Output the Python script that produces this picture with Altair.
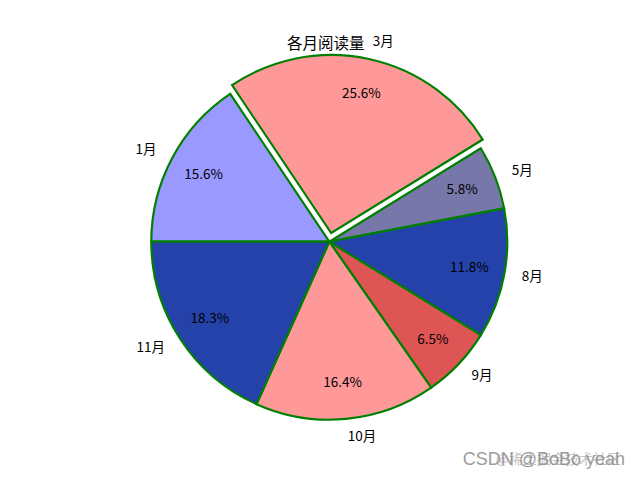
import math
import altair as alt
import pandas as pd

# ---- data ----
months = ["1月", "3月", "5月", "8月", "9月", "10月", "11月"]
values = [15.6, 25.6, 5.8, 11.8, 6.5, 16.4, 18.3]
colors = ["#9999ff", "#ff9999", "#7777aa", "#2442aa", "#dd5555", "#ff9999", "#2442aa"]
explode = [0, 0.05, 0, 0, 0, 0, 0]
title_text = "各月阅读量"
watermark_text = "CSDN @BoBo yeah"
watermark_text2 = "@稀土掘金技术社区"

# ---- layout / style ----
W, H = 624, 464
CX, CY = 321.3, 233.7
R = 178
START = 1.5 * math.pi  # first slice starts at 9 o'clock, drawn clockwise
FONT = "Noto Sans CJK SC"

df = pd.DataFrame({
    "month": months,
    "value": values,
    "color": colors,
    "explode": explode,
    "order": list(range(len(months))),
})

theta_scale = alt.Scale(domain=[0, 1], range=[START, START + 2 * math.pi])

base = (
    alt.Chart(df)
    .transform_joinaggregate(total="sum(value)")
    .transform_window(cum="sum(value)", sort=[alt.SortField("order")], frame=[None, 0])
    .transform_calculate(
        start="(datum.cum - datum.value) / datum.total",
        end="datum.cum / datum.total",
        mid="(datum.cum - datum.value / 2) / datum.total",
    )
    .transform_calculate(ang=f"{START} + 2 * PI * datum.mid")
    .transform_calculate(
        px=f"{CX} + datum.explode * {R} * sin(datum.ang)",
        py=f"{CY} - datum.explode * {R} * cos(datum.ang)",
        side="sin(datum.ang)",
        pct="format(datum.value / datum.total * 100, '.1f') + '%'",
    )
)

arcs = base.mark_arc(
    outerRadius=R, stroke="green", strokeWidth=2.2, strokeJoin="miter"
).encode(
    theta=alt.Theta("start:Q", scale=theta_scale, stack=None),
    theta2="end:Q",
    x=alt.X("px:Q", scale=None),
    y=alt.Y("py:Q", scale=None),
    color=alt.Color("color:N", scale=None),
    order=alt.Order("order:Q"),
)

pct = base.mark_text(
    font=FONT, fontSize=13.5, color="black", align="center", baseline="middle"
).encode(
    theta=alt.Theta("mid:Q", scale=theta_scale, stack=None),
    radius=alt.value(0.8 * R),
    x=alt.X("px:Q", scale=None),
    y=alt.Y("py:Q", scale=None),
    text="pct:N",
)

labels_left = base.transform_filter("datum.side < 0").mark_text(
    font=FONT, fontSize=13.5, color="black", align="right", baseline="middle"
).encode(
    theta=alt.Theta("mid:Q", scale=theta_scale, stack=None),
    radius=alt.value(1.1 * R),
    x=alt.X("px:Q", scale=None),
    y=alt.Y("py:Q", scale=None),
    text="month:N",
)

labels_right = base.transform_filter("datum.side >= 0").mark_text(
    font=FONT, fontSize=13.5, color="black", align="left", baseline="middle"
).encode(
    theta=alt.Theta("mid:Q", scale=theta_scale, stack=None),
    radius=alt.value(1.1 * R),
    x=alt.X("px:Q", scale=None),
    y=alt.Y("py:Q", scale=None),
    text="month:N",
)

title = alt.Chart(pd.DataFrame({"t": [title_text]})).mark_text(
    font=FONT, fontSize=15.5, color="black", align="center", baseline="middle"
).encode(x=alt.value(317.8), y=alt.value(36), text="t:N")

wm2 = alt.Chart(pd.DataFrame({"t": [watermark_text2]})).mark_text(
    font=FONT, fontSize=14, color="#c4c4c4", align="right", baseline="middle"
).encode(x=alt.value(613), y=alt.value(452), text="t:N")

wm = alt.Chart(pd.DataFrame({"t": [watermark_text]})).mark_text(
    font="Liberation Sans", fontSize=18, color="#8c8c8c", align="right", baseline="middle",
    opacity=0.85,
).encode(x=alt.value(617), y=alt.value(452), text="t:N")

chart = (
    alt.layer(arcs, pct, labels_left, labels_right, title, wm2, wm)
    .properties(width=W, height=H, autosize=alt.AutoSizeParams(type="none"), padding=0)
    .configure_view(stroke=None)
)

chart.save("out.html", embed_options={"renderer": "svg", "actions": False})
